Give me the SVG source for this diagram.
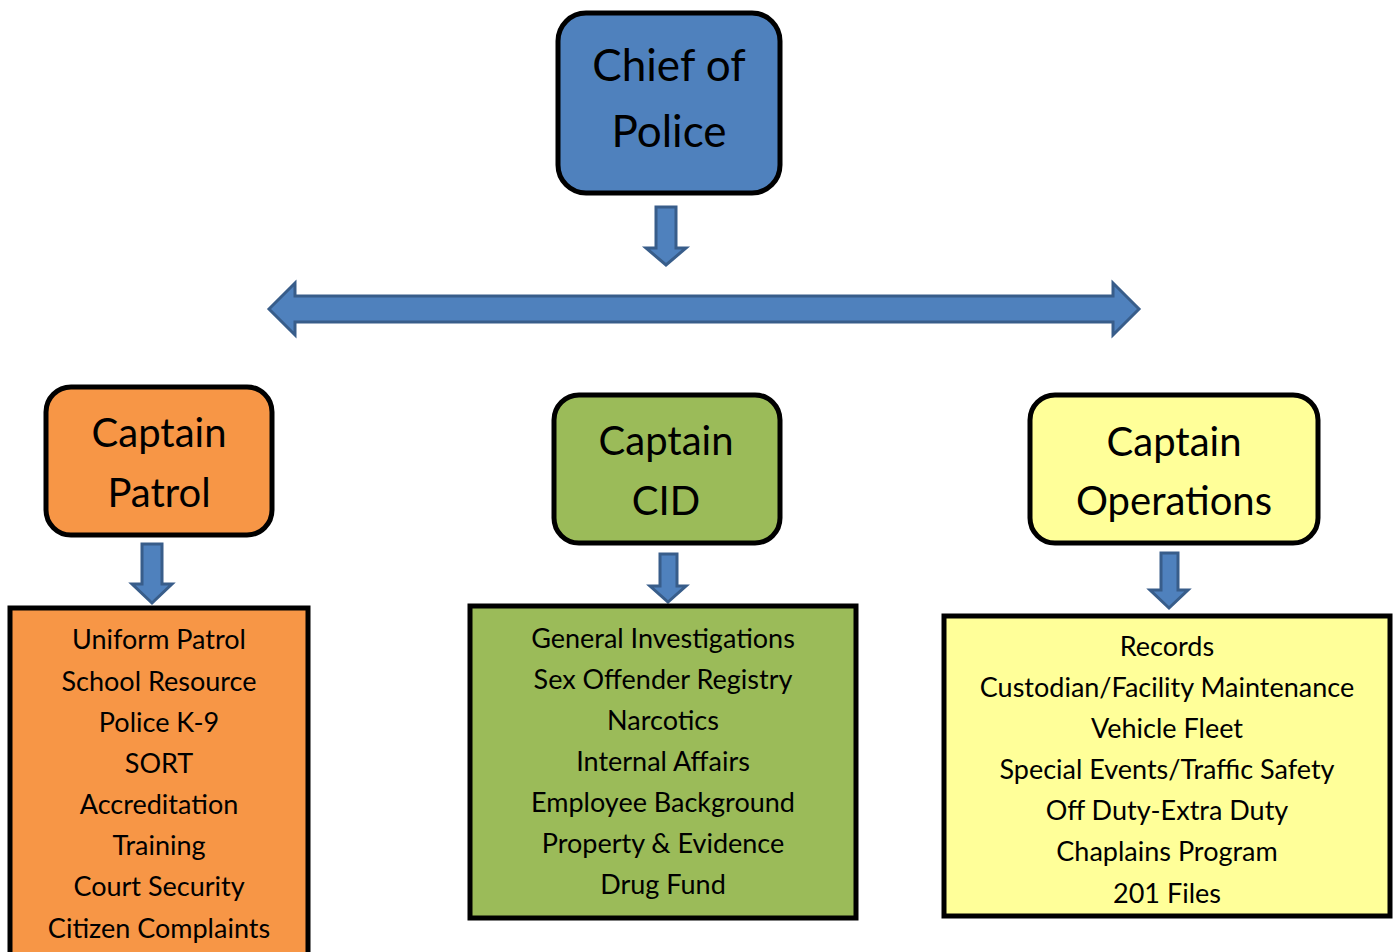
<svg xmlns="http://www.w3.org/2000/svg" width="1396" height="952" viewBox="0 0 1396 952">
<style>
.hd{stroke:#000;stroke-width:5}
.ls{stroke:#000;stroke-width:5}
.t{font-family:Lato,"Open Sans","Noto Sans",sans-serif;fill:#000;text-anchor:middle}
.big{font-size:44px}
.cap{font-size:40px}
.it{font-size:27px}
.ar{fill:#4F81BD;stroke:#385D8A;stroke-width:3;stroke-linejoin:miter}
</style>
<rect width="1396" height="952" fill="#fff"/>
<g id="connectors">
<path class="ar" d="M656,207 H676 V248 H686 L666,265 L646,248 H656 Z"/>
<path class="ar" d="M269,309 L295,283 V296 H1113 V283 L1139,309 L1113,335 V322 H295 V335 Z"/>
<path class="ar" d="M142,544 H162 V584 H172 L152,603 L132,584 H142 Z"/>
<path class="ar" d="M660,554 H677 V586 H686 L668,602 L650,586 H660 Z"/>
<path class="ar" d="M1161,553 H1178 V590 H1188 L1169,608 L1150,590 H1161 Z"/>
</g>
<g id="chief">
<rect class="hd" x="558" y="13" width="222" height="180" rx="28" fill="#4F81BD"/>
<text class="t big" x="669" y="81">Chief of</text>
<text class="t big" x="669" y="147">Police</text>
</g>
<g id="captain-patrol">
<rect class="hd" x="46" y="387" width="226" height="148" rx="25" fill="#F79646"/>
<text class="t cap" x="159" y="447">Captain</text>
<text class="t cap" x="159" y="507">Patrol</text>
</g>
<g id="captain-cid">
<rect class="hd" x="554" y="395" width="226" height="148" rx="25" fill="#9BBB59"/>
<text class="t cap" x="666" y="455">Captain</text>
<text class="t cap" x="666" y="515">CID</text>
</g>
<g id="captain-operations">
<rect class="hd" x="1030" y="395" width="288" height="148" rx="25" fill="#FFFF99"/>
<text class="t cap" x="1174" y="456">Captain</text>
<text class="t cap" x="1174" y="515">Operations</text>
</g>
<g id="patrol-list">
<rect class="ls" x="10" y="608" width="298" height="350" fill="#F79646"/>
<text class="t it" x="159" y="649">Uniform Patrol</text>
<text class="t it" x="159" y="691">School Resource</text>
<text class="t it" x="159" y="732">Police K-9</text>
<text class="t it" x="159" y="773">SORT</text>
<text class="t it" x="159" y="814">Accreditation</text>
<text class="t it" x="159" y="855">Training</text>
<text class="t it" x="159" y="896">Court Security</text>
<text class="t it" x="159" y="938">Citizen Complaints</text>
</g>
<g id="cid-list">
<rect class="ls" x="470" y="606" width="386" height="312" fill="#9BBB59"/>
<text class="t it" x="663" y="648">General Investigations</text>
<text class="t it" x="663" y="689">Sex Offender Registry</text>
<text class="t it" x="663" y="730">Narcotics</text>
<text class="t it" x="663" y="771">Internal Affairs</text>
<text class="t it" x="663" y="812">Employee Background</text>
<text class="t it" x="663" y="853">Property &amp; Evidence</text>
<text class="t it" x="663" y="894">Drug Fund</text>
</g>
<g id="operations-list">
<rect class="ls" x="944" y="616" width="446" height="300" fill="#FFFF99"/>
<text class="t it" x="1167" y="656">Records</text>
<text class="t it" x="1167" y="697">Custodian/Facility Maintenance</text>
<text class="t it" x="1167" y="738">Vehicle Fleet</text>
<text class="t it" x="1167" y="779">Special Events/Traffic Safety</text>
<text class="t it" x="1167" y="820">Off Duty-Extra Duty</text>
<text class="t it" x="1167" y="861">Chaplains Program</text>
<text class="t it" x="1167" y="903">201 Files</text>
</g>
</svg>
